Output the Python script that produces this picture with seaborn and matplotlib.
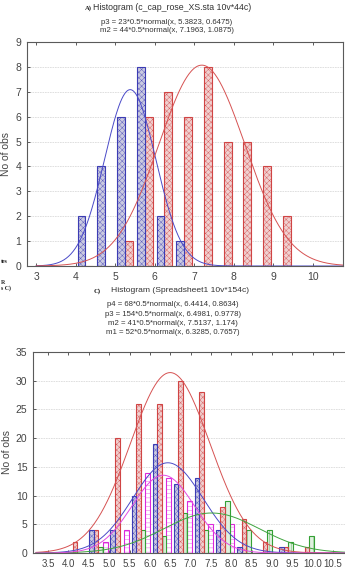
import numpy as np
import pandas as pd
import matplotlib
matplotlib.use("Agg")
import matplotlib.pyplot as plt
from matplotlib.ticker import MultipleLocator
from matplotlib.colors import to_rgba
import seaborn as sns

# ---------------- Panel A data ----------------
a_bin_centers = [4.25, 4.75, 5.25, 5.75, 6.25, 6.75, 7.25, 7.75, 8.25, 8.75, 9.25]
a_p3 = [2, 4, 6, 8, 2, 1, 0, 0, 0, 0, 0]
a_m2 = [0, 0, 1, 6, 7, 6, 8, 5, 5, 4, 2]
a_series = ["p3", "m2"]
a_n = [23, 44]
a_mean = [5.3823, 7.1963]
a_sd = [0.6475, 1.0875]
a_bin_width = 0.5

# ---------------- Panel C data ----------------
c_bin_start = 3.96
c_bin_width = 0.518
c_p4 = [0, 4, 4, 10, 19, 12, 13, 4, 1, 0, 1, 0]
c_p3 = [2, 4, 20, 26, 26, 30, 28, 8, 6, 2, 1, 1]
c_m2 = [0, 1, 0, 4, 3, 7, 4, 9, 4, 4, 2, 3]
c_m1 = [0, 2, 4, 14, 13, 9, 5, 5, 0, 0, 0, 0]
c_series = ["p4", "p3", "m2", "m1"]
c_n = [68, 154, 41, 52]
c_mean = [6.4414, 6.4981, 7.5137, 6.3285]
c_sd = [0.8634, 0.9778, 1.174, 0.7657]

a_ticks = [3, 4, 5, 6, 7, 8, 9, 10]
c_xticks = [3.5, 4.0, 4.5, 5.0, 5.5, 6.0, 6.5, 7.0, 7.5, 8.0, 8.5, 9.0, 9.5, 10.0, 10.5]

# ---------------- styles ----------------
styles = {
    "blue":    dict(edge="#3c3cb4", face="#cacae0", hatch="xxxxxx", line="#4a4ac8"),
    "red":     dict(edge="#d04444", face="#f0d0d0", hatch="xxxxxx", line="#d65252"),
    "green":   dict(edge="#34a034", face="#e0f0e0", hatch="|||", line="#3ea43e"),
    "magenta": dict(edge="#dc28dc", face="#ffffff", hatch="----", line="#e24ae2"),
}
a_colors = {"p3": "blue", "m2": "red"}
c_colors = {"p4": "blue", "p3": "red", "m2": "green", "m1": "magenta"}

sns.set_style("white")
plt.rcParams["font.family"] = ["Liberation Sans", "DejaVu Sans"]
plt.rcParams["hatch.linewidth"] = 0.25

fig = plt.figure(figsize=(3.45, 5.68), dpi=100)
W, H = 345.0, 568.0
axA = fig.add_axes([27 / W, 1 - 266 / H, (343 - 27) / W, (266 - 42) / H])
axC = fig.add_axes([33 / W, 1 - 553 / H, (347 - 33) / W, (553 - 352) / H])


def normal_curve(x, n, bw, m, s):
    return n * bw / (s * np.sqrt(2 * np.pi)) * np.exp(-0.5 * ((x - m) / s) ** 2)


def style_patches(ax, colors):
    lookup = {}
    for key, cname in colors.items():
        lookup[tuple(np.round(to_rgba(styles[cname]["edge"]), 3))] = styles[cname]
    for p in ax.patches:
        fc = tuple(np.round(p.get_facecolor(), 3))
        st = lookup.get(fc)
        if st is None:
            continue
        p.set_facecolor(st["face"])
        p.set_edgecolor(st["edge"])
        p.set_hatch(st["hatch"])
        p.set_linewidth(0.8)
        p.set_alpha(1)


def frame(ax):
    for sp in ax.spines.values():
        sp.set_visible(True)
        sp.set_color("#5a5a5a")
        sp.set_linewidth(0.8)
    ax.yaxis.grid(True, color="#dadada", linestyle=(0, (2, 1)), linewidth=0.6)
    ax.set_axisbelow(True)
    ax.tick_params(axis="both", colors="#5a5a5a", labelcolor="#444444",
                   direction="in", length=2.5, width=0.7, labelsize=7.5)
    ax.tick_params(axis="x", top=True, bottom=True, pad=4)
    ax.tick_params(axis="y", left=True, pad=4)


# ---------------- Panel A ----------------
dfA = pd.DataFrame({
    "x": a_bin_centers * 2,
    "count": a_p3 + a_m2,
    "series": [a_series[0]] * len(a_p3) + [a_series[1]] * len(a_m2),
})
a_edges = [float(v) for v in np.arange(4.0, 9.5 + 1e-9, a_bin_width)]
sns.histplot(data=dfA, x="x", weights="count", hue="series", hue_order=a_series,
             bins=a_edges, multiple="dodge", shrink=0.8, alpha=1, legend=False,
             palette={k: styles[v]["edge"] for k, v in a_colors.items()}, ax=axA)
style_patches(axA, a_colors)
xs = np.linspace(3.0, 10.8, 400)
for s, n, m, sd in zip(a_series, a_n, a_mean, a_sd):
    sns.lineplot(x=xs, y=normal_curve(xs, n, a_bin_width, m, sd),
                 color=styles[a_colors[s]]["line"], lw=0.7, ax=axA)
axA.set_xlim(2.77, 10.77)
axA.set_ylim(0, 9)
axA.set_xticks(a_ticks)
axA.yaxis.set_major_locator(MultipleLocator(1))
frame(axA)
axA.set_xlabel("")
axA.set_ylabel("No of obs", fontsize=7.5, color="#444444", labelpad=3)

# ---------------- Panel C ----------------
nb = len(c_p4)
c_edges = [float(v) for v in c_bin_start + c_bin_width * np.arange(nb + 1)]
c_centers = [float(v) for v in c_bin_start + c_bin_width * (np.arange(nb) + 0.5)]
dfC = pd.DataFrame({
    "x": c_centers * 4,
    "count": c_p4 + c_p3 + c_m2 + c_m1,
    "series": sum([[s] * nb for s in c_series], []),
})
sns.histplot(data=dfC, x="x", weights="count", hue="series", hue_order=c_series,
             bins=c_edges, multiple="dodge", shrink=0.86, alpha=1, legend=False,
             palette={k: styles[v]["edge"] for k, v in c_colors.items()}, ax=axC)
style_patches(axC, c_colors)
xs = np.linspace(3.2, 10.9, 400)
for s, n, m, sd in zip(c_series, c_n, c_mean, c_sd):
    sns.lineplot(x=xs, y=normal_curve(xs, n, 0.5, m, sd),
                 color=styles[c_colors[s]]["line"], lw=0.7, ax=axC)
axC.set_xlim(3.13, 10.84)
axC.set_ylim(0, 35)
axC.set_xticks(c_xticks)
axC.set_xticklabels([f"{t:.1f}" for t in c_xticks])
axC.yaxis.set_major_locator(MultipleLocator(5))
frame(axC)
axC.tick_params(axis="x", labelsize=7)
axC.set_xlabel("")
axC.set_ylabel("No of obs", fontsize=7.5, color="#444444", labelpad=3)

# ---------------- titles ----------------
tc = "#333333"
fig.text(88 / W, 1 - 8 / H, "A)", fontsize=4.8, fontweight="bold",
         family="Liberation Serif", ha="center", va="center", color="#222222")
fig.text(172 / W, 1 - 7 / H, "Histogram (c_cap_rose_XS.sta 10v*44c)",
         fontsize=6.3, ha="center", va="center", color=tc)
fig.text(167 / W, 1 - 22 / H, "p3 = 23*0.5*normal(x, 5.3823, 0.6475)",
         fontsize=5.6, ha="center", va="center", color=tc)
fig.text(167 / W, 1 - 31 / H, "m2 = 44*0.5*normal(x, 7.1963, 1.0875)",
         fontsize=5.6, ha="center", va="center", color=tc)

fig.text(97 / W, 1 - 291 / H, "C)", fontsize=4.8, fontweight="bold",
         family="Liberation Serif", ha="center", va="center", color="#222222")
fig.text(180 / W, 1 - 290 / H, "Histogram (Spreadsheet1 10v*154c)",
         fontsize=6.1, ha="center", va="center", color=tc)
c_lines = [
    "p4 = 68*0.5*normal(x, 6.4414, 0.8634)",
    "p3 = 154*0.5*normal(x, 6.4981, 0.9778)",
    "m2 = 41*0.5*normal(x, 7.5137, 1.174)",
    "m1 = 52*0.5*normal(x, 6.3285, 0.7657)",
]
for i, t in enumerate(c_lines):
    fig.text(173 / W, 1 - (305 + 9.2 * i) / H, t, fontsize=5.6,
             ha="center", va="center", color=tc)

# stray fragments of neighbouring panel captions
for txt, yy in [("tes", 262), ("R", 283), ("s C)", 288)]:
    fig.text(1 / W, 1 - yy / H, txt, fontsize=4.2, fontweight="bold",
             family="Liberation Serif", ha="left", va="center", color="#222222")

fig.savefig("out.png", dpi=100, facecolor="white")
